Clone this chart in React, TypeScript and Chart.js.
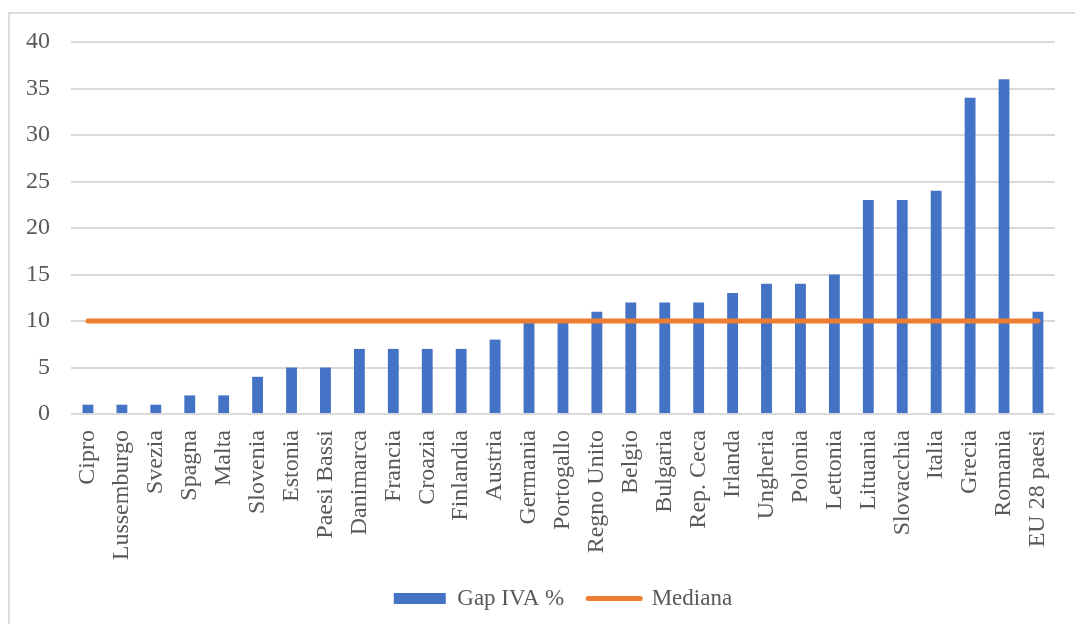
import React, { useEffect, useRef } from "react";
import { Chart, registerables } from "chart.js";

Chart.register(...registerables);

const categories = [
  "Cipro", "Lussemburgo", "Svezia", "Spagna", "Malta", "Slovenia", "Estonia",
  "Paesi Bassi", "Danimarca", "Francia", "Croazia", "Finlandia", "Austria",
  "Germania", "Portogallo", "Regno Unito", "Belgio", "Bulgaria", "Rep. Ceca",
  "Irlanda", "Ungheria", "Polonia", "Lettonia", "Lituania", "Slovacchia",
  "Italia", "Grecia", "Romania", "EU 28 paesi",
];

const gapIva = [
  1, 1, 1, 2, 2, 4, 5, 5, 7, 7, 7, 7, 8, 10, 10, 11, 12, 12, 12, 13, 14, 14,
  15, 23, 23, 24, 34, 36, 11,
];

const mediana = [
  10, 10, 10, 10, 10, 10, 10, 10, 10, 10, 10, 10, 10, 10, 10, 10, 10, 10, 10,
  10, 10, 10, 10, 10, 10, 10, 10, 10, 10,
];

const seriesLabels = ["Gap IVA %", "Mediana"];
const yTicks = { min: 0, max: 40, step: 5 };

const BLUE = "#4472C4";
const ORANGE = "#ED7D31";
const TEXT = "#595959";
const GRID = "#D9D9D9";
const FONT = "'Liberation Serif', 'Times New Roman', serif";

export default function App() {
  const ref = useRef<HTMLCanvasElement | null>(null);

  useEffect(() => {
    if (!ref.current) return;
    const chart = new Chart(ref.current, {
      type: "bar",
      data: {
        labels: categories,
        datasets: [
          {
            type: "bar",
            label: seriesLabels[0],
            data: gapIva,
            backgroundColor: BLUE,
            borderWidth: 0,
            barPercentage: 0.32,
            categoryPercentage: 1,
            order: 1,
          },
          {
            type: "line",
            label: seriesLabels[1],
            data: mediana,
            borderColor: ORANGE,
            backgroundColor: ORANGE,
            borderWidth: 5,
            borderCapStyle: "round",
            pointRadius: 0,
            fill: false,
            order: -1,
          },
        ],
      } as any,
      options: {
        animation: false,
        responsive: false,
        maintainAspectRatio: false,
        layout: { padding: { left: 0, right: 15, top: 28, bottom: 4 } },
        plugins: {
          tooltip: { enabled: false },
          legend: {
            position: "bottom",
            fullSize: false,
            labels: {
              color: TEXT,
              font: { family: FONT, size: 23 },
              usePointStyle: true,
              boxHeight: 11,
              pointStyleWidth: 52,
              padding: 24,
              generateLabels: (c: any) =>
                c.data.datasets.map((ds: any, i: number) => ({
                  text: ds.label,
                  fillStyle: i === 0 ? BLUE : ORANGE,
                  strokeStyle: i === 0 ? BLUE : ORANGE,
                  lineWidth: i === 0 ? 0 : 5,
                  lineCap: "round",
                  pointStyle: i === 0 ? "rect" : "line",
                  fontColor: TEXT,
                  hidden: false,
                  datasetIndex: i,
                })),
            },
          },
        },
        scales: {
          x: {
            grid: { display: false },
            border: { display: false },
            ticks: {
              color: TEXT,
              font: { family: FONT, size: 24 },
              autoSkip: false,
              maxRotation: 90,
              minRotation: 90,
              padding: 8,
            },
            afterFit: (s: any) => {
              s.height = 149;
            },
          },
          y: {
            min: yTicks.min,
            max: yTicks.max,
            grid: { color: GRID, lineWidth: 2, drawTicks: false },
            border: { display: false },
            ticks: {
              stepSize: yTicks.step,
              color: TEXT,
              font: { family: FONT, size: 24 },
              padding: 21,
            },
            afterFit: (s: any) => {
              s.width = 61;
              s.paddingTop = 0;
              s.paddingBottom = 0;
            },
          },
        },
      } as any,
    });
    return () => chart.destroy();
  }, []);

  return (
    <div
      style={{
        position: "absolute",
        left: 8,
        top: 12,
        borderTop: "2px solid #DCDCDC",
        borderLeft: "2px solid #DCDCDC",
        background: "#fff",
      }}
    >
      <canvas ref={ref} width={1065} height={610} style={{ display: "block" }} />
    </div>
  );
}
